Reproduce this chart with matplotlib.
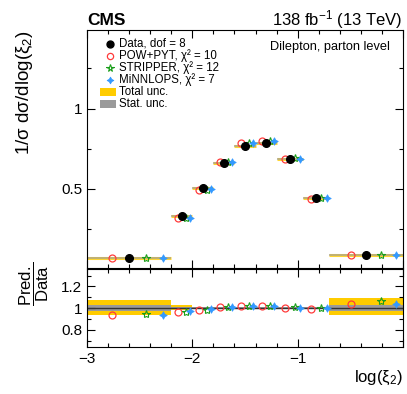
import numpy as np
import matplotlib
matplotlib.use("Agg")
import matplotlib.pyplot as plt
from matplotlib.ticker import MultipleLocator
from matplotlib.lines import Line2D
from matplotlib.patches import Rectangle

plt.rcParams['font.family'] = ['Liberation Sans', 'DejaVu Sans']
plt.rcParams['mathtext.fontset'] = 'custom'
plt.rcParams['mathtext.rm'] = 'Liberation Sans'
plt.rcParams['mathtext.it'] = 'Liberation Sans:italic'
plt.rcParams['mathtext.bf'] = 'Liberation Sans:bold'

# ---- data ----
bin_edges = [-3.0, -2.2, -2.0, -1.8, -1.6, -1.4, -1.2, -0.95, -0.7, 0.0]
data_vals = [0.069, 0.327, 0.502, 0.660, 0.769, 0.783, 0.683, 0.440, 0.083]
ratio_powpyt = [0.94, 0.96, 0.98, 1.01, 1.02, 1.02, 1.00, 0.994, 1.037]
ratio_stripper = [0.945, 0.96, 0.98, 1.01, 1.02, 1.015, 1.01, 1.00, 1.065]
ratio_minnlops = [0.935, 0.972, 0.994, 1.01, 1.02, 1.015, 1.00, 1.00, 1.034]
tot_up = [0.07, 0.025, 0.01, 0.01, 0.01, 0.01, 0.01, 0.01, 0.09]
tot_dn = [0.06, 0.02, 0.01, 0.01, 0.01, 0.01, 0.01, 0.01, 0.06]
stat_unc = [0.027, 0.01, 0.005, 0.005, 0.005, 0.005, 0.005, 0.005, 0.03]
labels = ["Data, dof = 8", "POW+PYT, χ² = 10", "STRIPPER, χ² = 12",
          "MiNNLOPS, χ² = 7", "Total unc.", "Stat. unc."]

edges = np.array(bin_edges)
lo, hi = edges[:-1], edges[1:]
w = hi - lo
ctr = 0.5 * (lo + hi)
d = np.array(data_vals)
r1, r2, r3 = np.array(ratio_powpyt), np.array(ratio_stripper), np.array(ratio_minnlops)
tu, td, st = np.array(tot_up), np.array(tot_dn), np.array(stat_unc)

x_red = ctr - 0.2 * w
x_green = ctr + 0.2 * w
x_blue = ctr + 0.4 * w

RED = '#FF3B3B'
GREEN = '#1A9E1A'
BLUE = '#3399FF'
YEL = '#FFCC00'
GRAY = '#9A9A9A'
star4 = (4, 1, 0)

W, H = 407, 394
fig = plt.figure(figsize=(W / 100, H / 100), dpi=100)
ax = fig.add_axes([87 / W, 1 - 268 / H, (403 - 87) / W, (268 - 30) / H])
axr = fig.add_axes([87 / W, 1 - 347 / H, (403 - 87) / W, (347 - 269) / H])

# main panel
for i in range(len(d)):
    ax.hlines(d[i], lo[i], hi[i], color=YEL, lw=2.2, alpha=0.8, zorder=2)
    ax.hlines(d[i], lo[i], hi[i], color=GRAY, lw=1.1, alpha=0.8, zorder=2.5)
ax.plot(x_red, d * r1, 'o', ms=5, mfc='none', mec=RED, mew=0.9, ls='none', zorder=3)
ax.plot(x_green, d * r2, '*', ms=6, mfc='none', mec=GREEN, mew=0.8, ls='none', zorder=3)
ax.plot(x_blue, d * r3, marker=star4, ms=5.5, color=BLUE, mec=BLUE, mew=0.5, ls='none', zorder=3)
ax.plot(ctr, d, 'o', ms=5.5, color='black', ls='none', zorder=4)

ax.set_xlim(-3, 0)
ax.set_ylim(0.005, 1.49)
ax.xaxis.set_major_locator(MultipleLocator(1))
ax.xaxis.set_minor_locator(MultipleLocator(0.2))
ax.yaxis.set_minor_locator(MultipleLocator(0.25))
ax.set_yticks([0.5, 1.0])
ax.set_yticklabels(['0.5', '1'])
ax.tick_params(labelbottom=False)
ax.set_ylabel('1/σ dσ/dlog(ξ$_{2}$)', fontsize=13.5, loc='top', labelpad=19)

# ratio panel
for i in range(len(d)):
    axr.fill_between([lo[i], hi[i]], 1 - td[i], 1 + tu[i], color=YEL, lw=0, zorder=1)
    axr.fill_between([lo[i], hi[i]], 1 - st[i], 1 + st[i], color=GRAY, lw=0, zorder=1.5)
axr.axhline(1.0, color='#333333', lw=1.0, zorder=2)
axr.plot(x_red, r1, 'o', ms=5, mfc='none', mec=RED, mew=0.9, ls='none', zorder=3)
axr.plot(x_green, r2, '*', ms=6, mfc='none', mec=GREEN, mew=0.8, ls='none', zorder=3)
axr.plot(x_blue, r3, marker=star4, ms=5.5, color=BLUE, mec=BLUE, mew=0.5, ls='none', zorder=3)
axr.set_xlim(-3, 0)
axr.set_ylim(0.64, 1.36)
axr.set_xticks([-3, -2, -1, 0])
axr.set_xticklabels(['−3', '−2', '−1', ''])
axr.xaxis.set_minor_locator(MultipleLocator(0.2))
axr.set_yticks([0.8, 1.0, 1.2])
axr.set_yticklabels(['0.8', '1', '1.2'])
axr.yaxis.set_minor_locator(MultipleLocator(0.1))
axr.set_xlabel('log(ξ$_{2}$)', fontsize=12, loc='right', labelpad=2)
fig.text(34 / W, 1 - 284 / H, r'$\dfrac{\mathrm{Pred.}}{\mathrm{Data}}$', fontsize=12,
         rotation=90, ha='center', va='center')

for a in (ax, axr):
    a.tick_params(which='both', direction='in', top=True, right=True, labelsize=11, width=0.8)
    a.tick_params(which='major', length=6)
    a.tick_params(which='minor', length=3)
    for s in a.spines.values():
        s.set_linewidth(0.8)

# manual legend (figure pixel positions)
leg_y = [44, 56, 68, 80, 92, 104]
styles = [
    dict(marker='o', ms=5, color='black'),
    dict(marker='o', ms=4.5, mfc='none', mec=RED, mew=0.9),
    dict(marker='*', ms=5.5, mfc='none', mec=GREEN, mew=0.8),
    dict(marker=star4, ms=5, color=BLUE, mew=0.5),
]
patch_cols = [YEL, GRAY]
for k, (yy, lab) in enumerate(zip(leg_y, labels)):
    yf = 1 - yy / H
    if k < 4:
        fig.add_artist(Line2D([110 / W], [yf], ls='none', transform=fig.transFigure, **styles[k]))
    else:
        fig.add_artist(Rectangle((100 / W, yf - 4 / H), 16 / W, 8 / H,
                                 facecolor=patch_cols[k - 4], edgecolor='none',
                                 transform=fig.transFigure))
    fig.text(119 / W, yf, lab, fontsize=8.3, ha='left', va='center')

ax.text(0.96, 0.93, 'Dilepton, parton level', transform=ax.transAxes, ha='right',
        va='center', fontsize=9.2)
fig.text(87 / W, 1 - 25 / H, 'CMS', fontsize=12.5, fontweight='bold', ha='left', va='baseline')
fig.text(402 / W, 1 - 25 / H, '138 fb$^{-1}$ (13 TeV)', fontsize=12, ha='right', va='baseline')

fig.savefig('out.png', dpi=100)
